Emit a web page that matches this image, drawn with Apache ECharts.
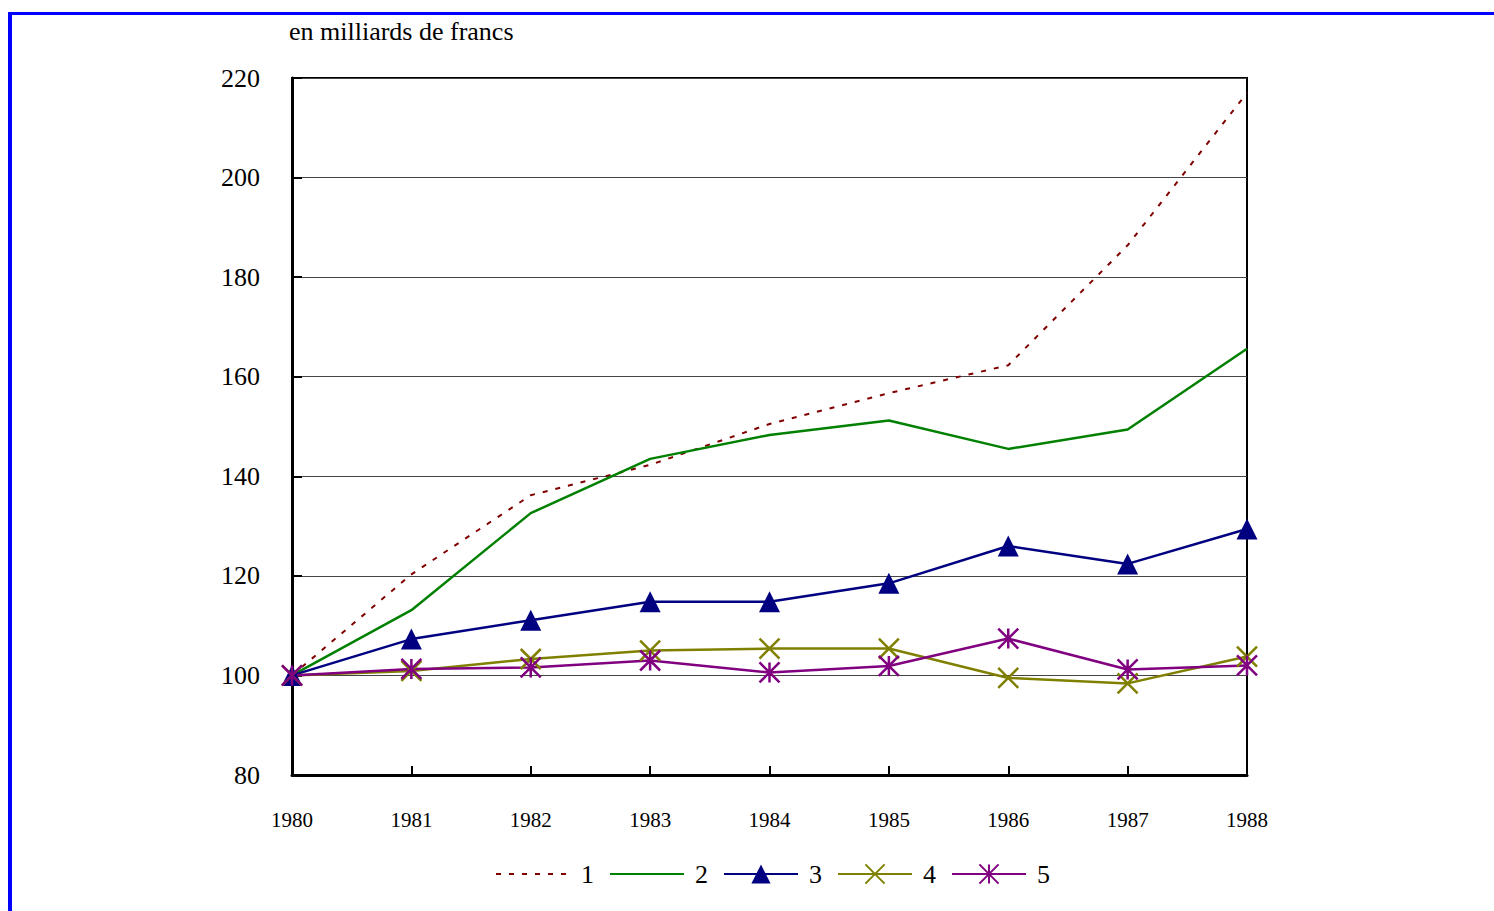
<!DOCTYPE html>
<html>
<head>
<meta charset="utf-8">
<script src="https://cdn.jsdelivr.net/npm/echarts@6.0.0/dist/echarts.min.js"></script>
<style>
  html, body { margin: 0; padding: 0; background: #fff; }
  #frame {
    position: absolute; left: 8px; top: 12px; right: 0; bottom: 0;
    border-left: 4px solid #0000ff; border-top: 3px solid #0000ff;
    pointer-events: none; z-index: 2;
  }
  #chart { position: absolute; left: 0; top: 0; width: 1494px; height: 911px; }
</style>
</head>
<body>
<div id="chart"></div>
<div id="frame"></div>
<script>
// years on the x axis
var years = ['1980', '1981', '1982', '1983', '1984', '1985', '1986', '1987', '1988'];
var names = ['1', '2', '3', '4', '5'];

// index values (1980 = 100)
var serie1 = [100, 120.3, 136.2, 142.3, 150.5, 156.7, 162.3, 186.4, 217.0];
var serie2 = [100, 113.1, 132.6, 143.5, 148.3, 151.2, 145.5, 149.4, 165.6];
var serie3 = [100, 107.3, 111.1, 114.8, 114.8, 118.5, 126.0, 122.4, 129.4];
var serie4 = [100, 100.9, 103.3, 105.0, 105.4, 105.4, 99.5, 98.4, 103.8];
var serie5 = [100, 101.3, 101.6, 103.0, 100.6, 101.9, 107.4, 101.2, 102.0];

var yTicks = [80, 100, 120, 140, 160, 180, 200, 220];

const red = '#800000';
const green = '#008000';
const blue = '#000080';
const olive = '#808000';
const purple = '#800080';

const serif = 'Liberation Serif';

var myChart = echarts.init(document.getElementById('chart'), null, {renderer: 'svg'});

option = {
    animation: false,
    title: {
        text: 'en milliards de francs',
        left: 289,
        top: 18,
        padding: 0,
        textStyle: { fontFamily: serif, fontSize: 26, fontWeight: 'normal', color: '#000' }
    },
    legend: {
        // lines 1 and 2 have no marker in the key
        data: [
            { name: names[0], itemStyle: { opacity: 0 } },
            { name: names[1], itemStyle: { opacity: 0 } },
            names[2], names[3], names[4]
        ],
        left: 490,
        top: 856,
        itemWidth: 74,
        itemHeight: 24,
        itemGap: 15,
        textStyle: { fontFamily: serif, fontSize: 26, color: '#000', padding: [0, 0, 0, 6] }
    },
    grid: {
        left: 292, right: 247, top: 78, bottom: 136,
        show: true,
        borderColor: '#000',
        borderWidth: 2
    },
    xAxis: {
        type: 'category',
        data: years,
        boundaryGap: false,
        axisLine: { lineStyle: { color: '#000', width: 3 } },
        axisTick: { inside: true, length: 9, lineStyle: { color: '#000', width: 2 } },
        axisLabel: { fontFamily: serif, fontSize: 21, color: '#000', margin: 34 },
        splitLine: { show: false }
    },
    yAxis: {
        type: 'value',
        min: yTicks[0],
        max: yTicks[yTicks.length - 1],
        interval: 20,
        axisLine: { show: true, lineStyle: { color: '#000', width: 3 } },
        axisTick: { show: true, inside: true, length: 10, lineStyle: { color: '#000', width: 2 } },
        axisLabel: { fontFamily: serif, fontSize: 26, color: '#000', margin: 32 },
        splitLine: { lineStyle: { color: '#444', width: 1 } }
    },
    series: [
        {
            name: '1', type: 'line', data: serie1,
            symbol: 'none',
            color: red,
            lineStyle: { color: red, width: 2, type: [5, 8] }
        },
        {
            name: '2', type: 'line', data: serie2,
            symbol: 'none',
            color: green,
            lineStyle: { color: green, width: 2.5 }
        },
        {
            name: '3', type: 'line', data: serie3,
            symbol: 'triangle', symbolSize: 21,
            color: blue,
            itemStyle: { color: blue },
            lineStyle: { color: blue, width: 2.5 }
        },
        {
            name: '4', type: 'line', data: serie4,
            symbol: 'path://M0,0L10,10M10,0L0,10', symbolSize: 20,
            color: olive,
            itemStyle: { color: olive, borderColor: olive, borderWidth: 2.5 },
            lineStyle: { color: olive, width: 2.5 }
        },
        {
            name: '5', type: 'line', data: serie5,
            symbol: 'path://M5,0L5,10M0,0L10,10M10,0L0,10', symbolSize: 20,
            color: purple,
            itemStyle: { color: purple, borderColor: purple, borderWidth: 2.5 },
            lineStyle: { color: purple, width: 2.5 }
        }
    ]
};

myChart.setOption(option);
</script>
</body>
</html>
